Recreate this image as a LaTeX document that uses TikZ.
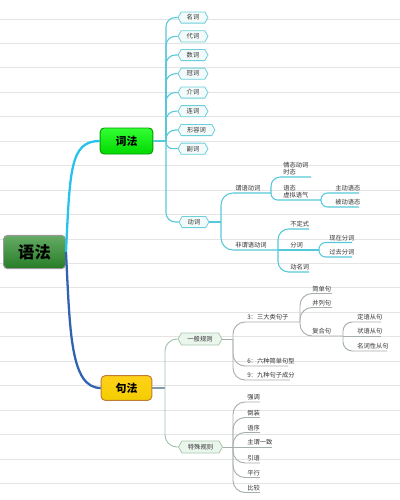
\documentclass[tikz,border=0pt]{standalone}
\usepackage{fontspec}
\setmainfont{Noto Sans CJK SC}
\usetikzlibrary{shapes.symbols}
\definecolor{bgl}{HTML}{E4E4E4}
\definecolor{cyl}{HTML}{55C8DA}
\definecolor{cyroot}{HTML}{26C2EE}
\definecolor{blroot}{HTML}{2F62B0}
\definecolor{jfl}{HTML}{7F9CAB}
\definecolor{grl}{HTML}{A6AFAC}
\definecolor{txt}{HTML}{333333}
\definecolor{hexfill}{HTML}{F3FAFA}
\definecolor{hexdraw}{HTML}{6CCFDC}
\definecolor{gfill}{HTML}{EAF5EC}
\definecolor{gdraw}{HTML}{A6C8B0}
\begin{document}
\begin{tikzpicture}[x=0.75pt,y=-0.75pt,
  bgline/.style={draw=bgl,line width=0.75pt},
  cl/.style={draw=cyl,line width=0.8pt},
  jl/.style={draw=grl,line width=0.7pt},
  hexnode/.style={signal,signal to=east and west,signal pointer angle=120,
    draw=hexdraw,fill=hexfill,line width=0.6pt,inner xsep=3pt,inner ysep=0pt,
    minimum height=8.4pt,minimum width=22.5pt,text=txt,font=\fontsize{4.7}{5.6}\selectfont},
  ghex/.style={hexnode,draw=gdraw,fill=gfill,minimum height=9pt,minimum width=33pt},
  lbl/.style={inner sep=0pt,anchor=south west,text=txt,font=\fontsize{4.7}{5.8}\selectfont,align=left},
  main/.style={rounded corners=3pt,line width=0.7pt,text=black,font=\fontsize{8.2}{9}\selectfont\bfseries}
]
\fill[white] (0,0) rectangle (400,500);
\useasboundingbox (0,0) rectangle (400,500);
\foreach \k in {0,...,19}{\draw[bgline] (0,19+24.45*\k) -- (400,19+24.45*\k);}

% main nodes
\node[main,draw=gray!80,top color=green!45!black!60!white,bottom color=green!40!black!85,
  minimum width=46.5pt,minimum height=25pt,font=\fontsize{12.2}{13}\selectfont\bfseries] (root) at (34.5,252) {语法};
\node[main,draw=green!60!black,top color=green!80!white,bottom color=green!85!black,
  minimum width=39.5pt,minimum height=19.5pt] (cifa) at (126.5,141) {词法};
\node[main,draw=orange!70!black!80,top color=yellow!60!orange!90,bottom color=orange!30!yellow!95!black,
  minimum width=38pt,minimum height=18.5pt] (jufa) at (126.5,388) {句法};

\draw[draw=cyroot,line width=1.7pt] (root.east) .. controls (70,170) and (70,141) .. (cifa.west);
\draw[draw=blroot,line width=1.7pt] (root.east) .. controls (70,330) and (70,388) .. (jufa.west);

% 词法 children
\node[hexnode] (n1) at (193,17.5) {名词};
\node[hexnode] (n2) at (193,36.3) {代词};
\node[hexnode] (n3) at (193,55) {数词};
\node[hexnode] (n4) at (193,73.7) {冠词};
\node[hexnode] (n5) at (193,92.5) {介词};
\node[hexnode] (n6) at (193,111.2) {连词};
\node[hexnode,minimum width=27.7pt] (n7) at (196.5,130) {形容词};
\node[hexnode] (n8) at (193,148.7) {副词};
\node[hexnode] (dongci) at (194,222) {动词};
\coordinate (cfj) at (166,141);
\draw[cl] (cifa.east) -- (cfj);
\foreach \n in {n1,n2,n3,n4,n5,n6,n7,dongci}{\draw[cl,rounded corners=7] (cfj) |- (\n.west);}
\draw[cl,rounded corners=5] (cfj) |- (n8.west);

% 动词 subtree
\coordinate (dcj) at (221,222);
\draw[cl] (dongci.east) -- (dcj);
\coordinate (wye) at (271,193);
\coordinate (fwe) at (278,250);
\node[lbl] (wy) at (235,191.4) {谓语动词};
\node[lbl] (fw) at (235,248.4) {非谓语动词};
\draw[cl,rounded corners=9] (dcj) |- (wye);
\draw[cl,rounded corners=9] (dcj) |- (fwe);

\coordinate (qte) at (311,177);
\coordinate (yte) at (321,200);
\node[lbl] (qt) at (283,175.6) {情态动词\\时态};
\node[lbl] (yt) at (283,198.6) {语态\\虚拟语气};
\draw[cl,rounded corners=7] (wye) |- (qte);
\draw[cl,rounded corners=5] (wye) |- (yte);

\coordinate (zde) at (359,193);
\coordinate (bde) at (359,207);
\node[lbl] (zd) at (335,191.4) {主动语态};
\node[lbl] (bd) at (335,205.4) {被动语态};
\draw[cl,rounded corners=5] (yte) |- (zde);
\draw[cl,rounded corners=5] (yte) |- (bde);

\coordinate (bdse) at (309,229);
\coordinate (fce) at (319,250);
\coordinate (dmce) at (309,272);
\node[lbl] (bds) at (290,227.4) {不定式};
\node[lbl] (fc) at (290,248.4) {分词};
\node[lbl] (dmc) at (290,270.4) {动名词};
\draw[cl,rounded corners=8] (fwe) |- (bdse);
\draw[cl] (fwe) -- (fce);
\draw[cl,rounded corners=8] (fwe) |- (dmce);

\coordinate (xze) at (352,242.5);
\coordinate (gqe) at (352,257);
\node[lbl] (xz) at (329,240.9) {现在分词};
\node[lbl] (gq) at (329,255.4) {过去分词};
\draw[cl,rounded corners=5] (fce) |- (xze);
\draw[cl,rounded corners=5] (fce) |- (gqe);

% 句法 subtree
\node[ghex] (yiban) at (200,339) {一般规则};
\node[ghex] (teshu) at (200.5,447) {特殊规则};
\coordinate (jfj) at (165,388);
\draw[draw=jfl,line width=0.8pt] (jufa.east) -- (jfj);
\draw[jl,draw=gdraw!90!gray,rounded corners=9] (jfj) |- (yiban.west);
\draw[jl,draw=gdraw!90!gray,rounded corners=9] (jfj) |- (teshu.west);

\coordinate (ybj) at (233,339);
\draw[jl] (yiban.east) -- (ybj);
\coordinate (sde) at (300,322);
\coordinate (lze) at (288,366);
\coordinate (jze) at (290,380);
\node[lbl] (sd) at (247,320.4) {3：三大类句子};
\node[lbl] (lz) at (247,364.4) {6：六种简单句型};
\node[lbl] (jz) at (247,378.4) {9：九种句子成分};
\draw[jl,rounded corners=9] (ybj) |- (sde);
\draw[jl,rounded corners=9] (ybj) |- (lze);
\draw[jl,rounded corners=9] (ybj) |- (jze);

\coordinate (jde) at (332,293.5);
\coordinate (ble) at (332,307.5);
\coordinate (fhe) at (343,336);
\node[lbl] (jd) at (312,291.9) {简单句};
\node[lbl] (bl) at (312,305.9) {并列句};
\node[lbl] (fh) at (312,334.4) {复合句};
\draw[jl,rounded corners=9] (sde) |- (jde);
\draw[jl,rounded corners=9] (sde) |- (ble);
\draw[jl,rounded corners=9] (sde) |- (fhe);

\coordinate (dye) at (381,322);
\coordinate (zye) at (381,336);
\coordinate (mce) at (387,351);
\node[lbl] (dy) at (357,320.4) {定语从句};
\node[lbl] (zy) at (357,334.4) {状语从句};
\node[lbl] (mc) at (357,349.4) {名词性从句};
\draw[jl,rounded corners=7] (fhe) |- (dye);
\draw[jl] (fhe) -- (zye);
\draw[jl,rounded corners=7] (fhe) |- (mce);

\coordinate (tsj) at (233,447);
\draw[jl] (teshu.east) -- (tsj);
\coordinate (s1e) at (260,402);
\coordinate (s2e) at (260,417.5);
\coordinate (s3e) at (260,432.5);
\coordinate (s4e) at (272,447);
\coordinate (s5e) at (260,463);
\coordinate (s6e) at (260,477.5);
\coordinate (s7e) at (260,492.5);
\node[lbl] (s1) at (247,400.4) {强调};
\node[lbl] (s2) at (247,415.9) {倒装};
\node[lbl] (s3) at (247,430.9) {语序};
\node[lbl] (s4) at (247,445.4) {主谓一致};
\node[lbl] (s5) at (247,461.4) {引语};
\node[lbl] (s6) at (247,475.9) {平行};
\node[lbl] (s7) at (247,490.9) {比较};
\foreach \e in {s1e,s2e,s3e,s5e,s6e,s7e}{\draw[jl,rounded corners=9] (tsj) |- (\e);}
\draw[jl] (tsj) -- (s4e);
\end{tikzpicture}
\end{document}
